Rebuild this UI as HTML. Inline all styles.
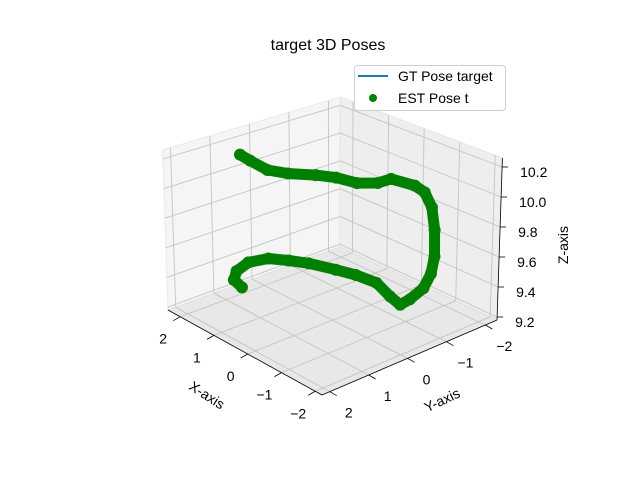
<!DOCTYPE html>
<html><head><meta charset="utf-8">
<style>
body{margin:0;background:#fff;}
svg text{font-family:"Liberation Sans","DejaVu Sans",sans-serif;fill:#000;}
</style></head>
<body>
<svg id="chart" width="640" height="480" viewBox="0 0 640 480" xmlns="http://www.w3.org/2000/svg">
<rect width="640" height="480" fill="#fff"/>
<text x="328" y="50" font-size="16" text-anchor="middle">target 3D Poses</text>
<g id="panes"></g>
<g id="grid"></g>
<g id="axes"></g>
<g id="series"></g>
<text x="207" y="400" font-size="14" text-anchor="middle" transform="rotate(33 207 395)">X-axis</text>
<text x="442" y="405" font-size="14" text-anchor="middle" transform="rotate(-25 442 400)">Y-axis</text>
<text x="563" y="250" font-size="14" text-anchor="middle" transform="rotate(-90 563 245)">Z-axis</text>
<g>
<rect x="354.5" y="65.5" width="151" height="45" rx="3" fill="#fff" fill-opacity="0.85" stroke="#d0d0d0"/>
<line x1="358" y1="76" x2="388" y2="76" stroke="#1f77b4" stroke-width="2"/>
<text x="398" y="81" font-size="14">GT Pose target</text>
<circle cx="373" cy="98" r="4" fill="#008000"/>
<text x="398" y="103" font-size="14">EST Pose t</text>
</g>
</svg>
<script>
const xTicks=[-2,-1,0,1,2];
const yTicks=[-2,-1,0,1,2];
const zTicks=[9.2,9.4,9.6,9.8,10.0,10.2];
const zTickLabels=["9.2","9.4","9.6","9.8","10.0","10.2"];
const estX=[2.02,1.68,1.11,0.73,0.44,0.09,-0.38,-0.64,-0.66,-1.11,-1.27,-1.37,-1.47,-1.66,-1.59,-1.47,-1.31,-1.21,-1.05,-0.42,0.11,0.55,1.11,1.46,1.78,1.89,1.74,1.48,1.13];
const estY=[0.55,0.60,0.66,0.48,0.04,-0.17,-0.28,-0.57,-0.89,-1.09,-1.20,-1.30,-1.29,-1.13,-1.11,-1.03,-0.83,-0.67,-0.55,-0.76,-0.70,-0.57,-0.37,-0.16,0.08,0.50,0.94,1.24,1.34];
const estZ=[10.13,10.13,10.13,10.13,10.11,10.11,10.11,10.11,10.11,10.09,10.05,9.95,9.81,9.67,9.55,9.45,9.38,9.35,9.4,9.4,9.4,9.4,9.4,9.4,9.4,9.4,9.4,9.4,9.4];

const XMIN=-2.2,XMAX=2.36,YMIN=-2.3,YMAX=2.2,ZMIN=9.18,ZMAX=10.26;
const CF=[322,395],CA=[168,310],CR=[497,320],CB=[340,247];
const HF=172,HA=160,HR=162,HB=150;
function P(x,y,z){
  const u=(x-XMIN)/(XMAX-XMIN),v=(YMAX-y)/(YMAX-YMIN);
  const wF=(1-u)*(1-v),wA=u*(1-v),wR=(1-u)*v,wB=u*v;
  const sx=CF[0]*wF+CA[0]*wA+CR[0]*wR+CB[0]*wB;
  const sy=CF[1]*wF+CA[1]*wA+CR[1]*wR+CB[1]*wB;
  const H=HF*wF+HA*wA+HR*wR+HB*wB;
  const c=(z-ZMIN)/(ZMAX-ZMIN);
  return [sx+(sx-333)*0.033*c, sy-H*c];
}
const NS="http://www.w3.org/2000/svg";
function mk(tag,attrs,parent){const e=document.createElementNS(NS,tag);for(const k in attrs)e.setAttribute(k,attrs[k]);parent.appendChild(e);return e;}
const panes=document.getElementById('panes'),grid=document.getElementById('grid'),axes=document.getElementById('axes'),series=document.getElementById('series');
function poly(pts){return pts.map(p=>p[0].toFixed(1)+','+p[1].toFixed(1)).join(' ');}
let e;
e=mk('polygon',{points:poly([P(XMAX,YMAX,ZMIN),P(XMAX,YMAX,ZMAX),P(XMAX,YMIN,ZMAX),P(XMAX,YMIN,ZMIN)]),fill:'#f5f5f5',stroke:'#eaeaea'},panes);


e=mk('polygon',{points:poly([P(XMAX,YMIN,ZMIN),P(XMAX,YMIN,ZMAX),P(XMIN,YMIN,ZMAX),P(XMIN,YMIN,ZMIN)]),fill:'#eeeeee',stroke:'#e6e6e6'},panes);


e=mk('polygon',{points:poly([P(XMAX,YMAX,ZMIN),P(XMAX,YMIN,ZMIN),P(XMIN,YMIN,ZMIN),P(XMIN,YMAX,ZMIN)]),fill:'#e8e8e8',stroke:'#e0e0e0'},panes);


function gl(p,q,name){const l=mk('line',{x1:p[0],y1:p[1],x2:q[0],y2:q[1],stroke:'#c4c4c4','stroke-width':0.9},grid);}
xTicks.forEach(x=>{gl(P(x,YMAX,ZMIN),P(x,YMIN,ZMIN),'x-grid-floor');gl(P(x,YMIN,ZMIN),P(x,YMIN,ZMAX),'x-grid-wall');});
yTicks.forEach(y=>{gl(P(XMIN,y,ZMIN),P(XMAX,y,ZMIN),'y-grid-floor');gl(P(XMAX,y,ZMIN),P(XMAX,y,ZMAX),'y-grid-wall');});
zTicks.forEach(z=>{gl(P(XMAX,YMAX,z),P(XMAX,YMIN,z),'z-grid-left');gl(P(XMAX,YMIN,z),P(XMIN,YMIN,z),'z-grid-right');});
function ax(p,q,name){const l=mk('line',{x1:p[0],y1:p[1],x2:q[0],y2:q[1],stroke:'#000','stroke-width':0.8},axes);}
ax(P(XMAX,YMAX,ZMIN),P(XMIN,YMAX,ZMIN),'x-axis-line');
ax(P(XMIN,YMAX,ZMIN),P(XMIN,YMIN,ZMIN),'y-axis-line');
ax(P(XMIN,YMIN,ZMIN),P(XMIN,YMIN,ZMAX),'z-axis-line');
function lab(x,y,t,name,anchor){const s=mk('text',{x:x,y:y,'font-size':14,'text-anchor':anchor||'middle'},axes);s.textContent=t;}
xTicks.forEach(x=>{const p=P(x,YMAX,ZMIN);ax(p,[p[0]-7,p[1]+4],'x-tick');lab(p[0]-17,p[1]+27,String(x).replace('-','\u2212'),'x-tick-label');});
yTicks.forEach(y=>{const p=P(XMIN,y,ZMIN);ax(p,[p[0]+7,p[1]+4],'y-tick');lab(p[0]+19,p[1]+26,String(y).replace('-','\u2212'),'y-tick-label');});
zTicks.forEach((z,i)=>{const p=P(XMIN,YMIN,z);ax(p,[p[0]+6,p[1]],'z-tick');lab(p[0]+18,p[1]+10,zTickLabels[i],'z-tick-label','start');});
const pts=estX.map((x,i)=>P(x,estY[i],estZ[i]));
e=mk('polyline',{points:poly(pts),fill:'none',stroke:'#008000','stroke-width':11,'stroke-linejoin':'round','stroke-linecap':'round'},series);


pts.forEach(p=>{const c=mk('circle',{cx:p[0],cy:p[1],r:6,fill:'#008000'},series);

});
</script>
</body></html>
